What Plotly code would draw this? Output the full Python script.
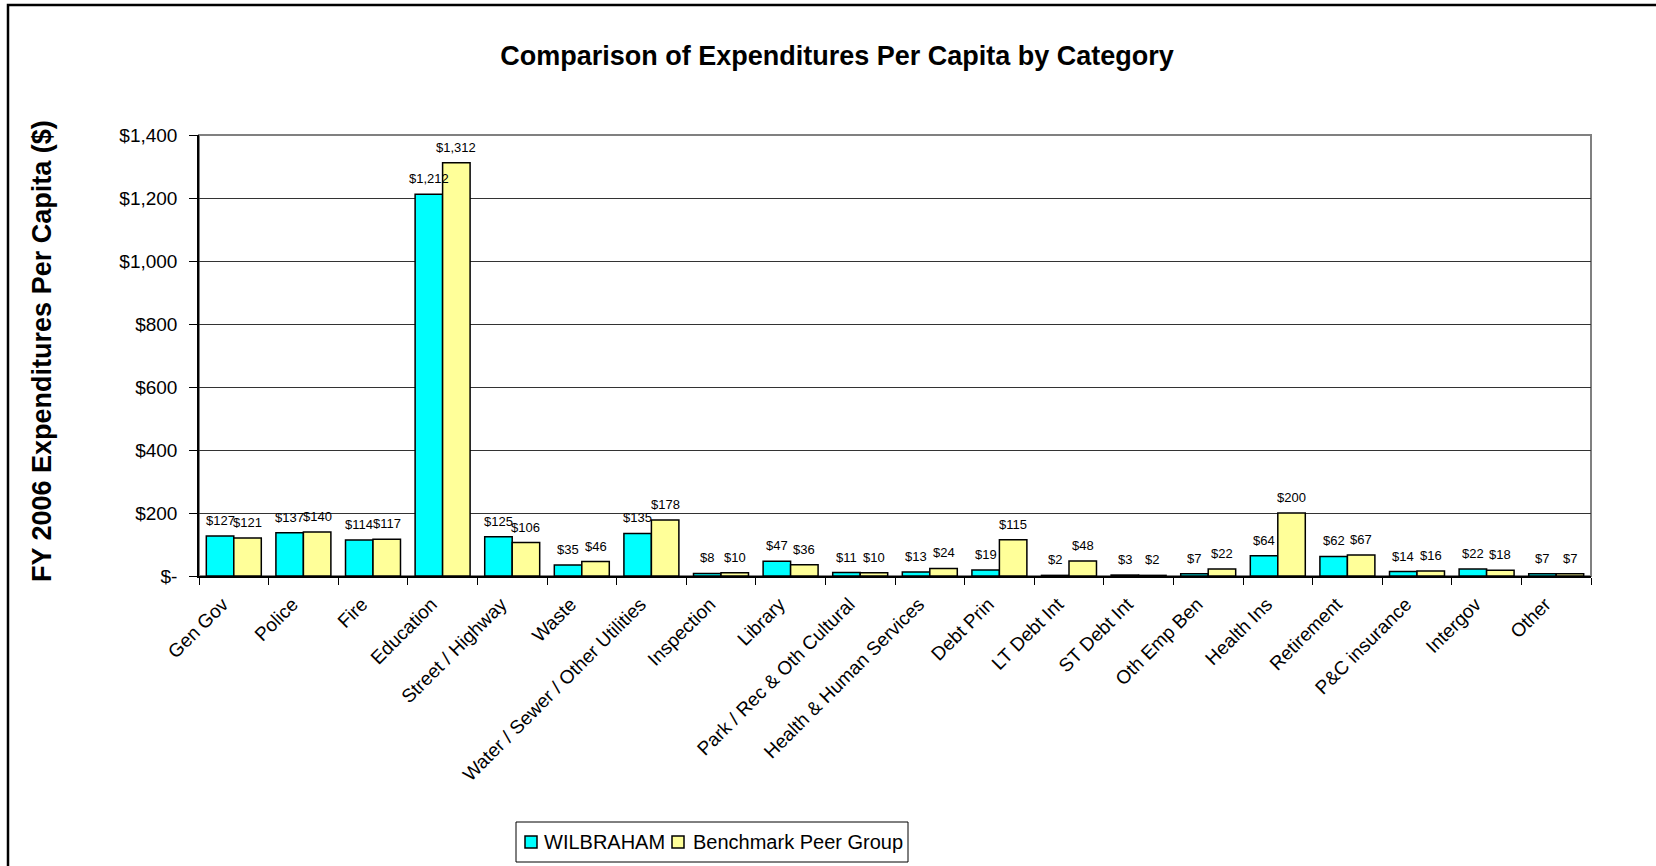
import plotly.graph_objects as go

categories = [
    "Gen Gov", "Police", "Fire", "Education", "Street / Highway", "Waste",
    "Water / Sewer / Other Utilities", "Inspection", "Library",
    "Park / Rec & Oth Cultural", "Health & Human Services", "Debt Prin",
    "LT Debt Int", "ST Debt Int", "Oth Emp Ben", "Health Ins", "Retirement",
    "P&C insurance", "Intergov", "Other",
]
wilbraham = [127, 137, 114, 1212, 125, 35, 135, 8, 47, 11, 13, 19, 2, 3, 7, 64, 62, 14, 22, 7]
benchmark = [121, 140, 117, 1312, 106, 46, 178, 10, 36, 10, 24, 115, 48, 2, 22, 200, 67, 16, 18, 7]

tick_vals = [0, 200, 400, 600, 800, 1000, 1200, 1400]
tick_text = ["$-", "$200", "$400", "$600", "$800", "$1,000", "$1,200", "$1,400"]

series_names = ["WILBRAHAM", "Benchmark Peer Group"]
series_colors = ["#00FFFF", "#FFFF99"]

W, H = 1656, 866
L, R, T, B = 199, 1591, 135, 576  # plot area in pixels
BARGAP = 0.21
FONT = "Liberation Sans, Arial, sans-serif"


def money(v):
    return "${:,}".format(v)


def px_x(x):
    return (x - L) / (R - L)


def px_y(y):
    return (B - y) / (B - T)


fig = go.Figure()
for name, color, vals in zip(series_names, series_colors, [wilbraham, benchmark]):
    fig.add_trace(go.Bar(
        x=categories, y=vals, name=name,
        marker=dict(color=color, line=dict(color="black", width=1.5)),
        showlegend=False,
    ))

# value labels centred over each bar of the pair
slot = (R - L) / len(categories)
bar_w = slot * (1 - BARGAP) / 2
for k, vals in enumerate([wilbraham, benchmark]):
    shift = (k - 0.5) * bar_w
    for cat, v in zip(categories, vals):
        fig.add_annotation(
            x=cat, y=v, text=money(v), showarrow=False,
            xanchor="center", yanchor="bottom", xshift=shift, yshift=7,
            font=dict(size=13, family=FONT, color="black"),
            borderpad=0,
        )

fig.update_layout(
    width=W, height=H,
    margin=dict(l=L, r=W - R, t=T, b=H - B),
    paper_bgcolor="white", plot_bgcolor="white",
    barmode="group", bargap=BARGAP, bargroupgap=0,
    font=dict(family=FONT, color="black"),
    title=dict(
        text="<b>Comparison of Expenditures Per Capita by Category</b>",
        x=837 / W, xanchor="center", y=1 - 56 / H, yanchor="middle",
        font=dict(size=27, family=FONT),
    ),
)

fig.update_xaxes(
    type="category", showgrid=False, showline=True, linecolor="black", linewidth=1.5,
    ticks="outside", tickson="boundaries", ticklen=7, tickcolor="black", tickwidth=1,
    tickangle=-45, tickfont=dict(size=19, family=FONT),
    ticklabelstandoff=8, ticklabelshift=-11,
)
fig.update_yaxes(
    range=[0, 1400], tickvals=tick_vals, ticktext=tick_text,
    showgrid=True, gridcolor="#333333", gridwidth=1,
    showline=True, linecolor="black", linewidth=1.5,
    ticks="outside", ticklen=8, tickcolor="black", tickwidth=1,
    ticklabelstandoff=8,
    tickfont=dict(size=19, family=FONT),
    zeroline=False,
)

# gray frame around the plotting area
fig.add_shape(type="rect", xref="paper", yref="paper", x0=0, y0=0, x1=1, y1=1,
              line=dict(color="#808080", width=2), layer="below")
# outer chart border
fig.add_shape(type="rect", xref="paper", yref="paper",
              x0=px_x(8), y0=px_y(900), x1=px_x(1700), y1=px_y(5),
              line=dict(color="black", width=2.5))

fig.add_annotation(
    text="<b>FY 2006 Expenditures Per Capita ($)</b>", textangle=-90,
    xref="paper", yref="paper", x=px_x(42), y=px_y(351),
    xanchor="center", yanchor="middle", showarrow=False,
    font=dict(size=27, family=FONT),
)

# legend box with swatches and series names
fig.add_shape(type="rect", xref="paper", yref="paper",
              x0=px_x(516), y0=px_y(862), x1=px_x(908), y1=px_y(822),
              line=dict(color="black", width=1), fillcolor="white")
legend_items = [(525, 543), (672, 692)]
for (sx, tx), name, color in zip(legend_items, series_names, series_colors):
    fig.add_shape(type="rect", xref="paper", yref="paper",
                  x0=px_x(sx), y0=px_y(848), x1=px_x(sx + 12), y1=px_y(836),
                  line=dict(color="black", width=1.5), fillcolor=color)
    fig.add_annotation(
        text=name, xref="paper", yref="paper", x=px_x(tx), y=px_y(842),
        xanchor="left", yanchor="middle", showarrow=False,
        font=dict(size=20, family=FONT), borderpad=0,
    )

fig.write_html("out.html")
